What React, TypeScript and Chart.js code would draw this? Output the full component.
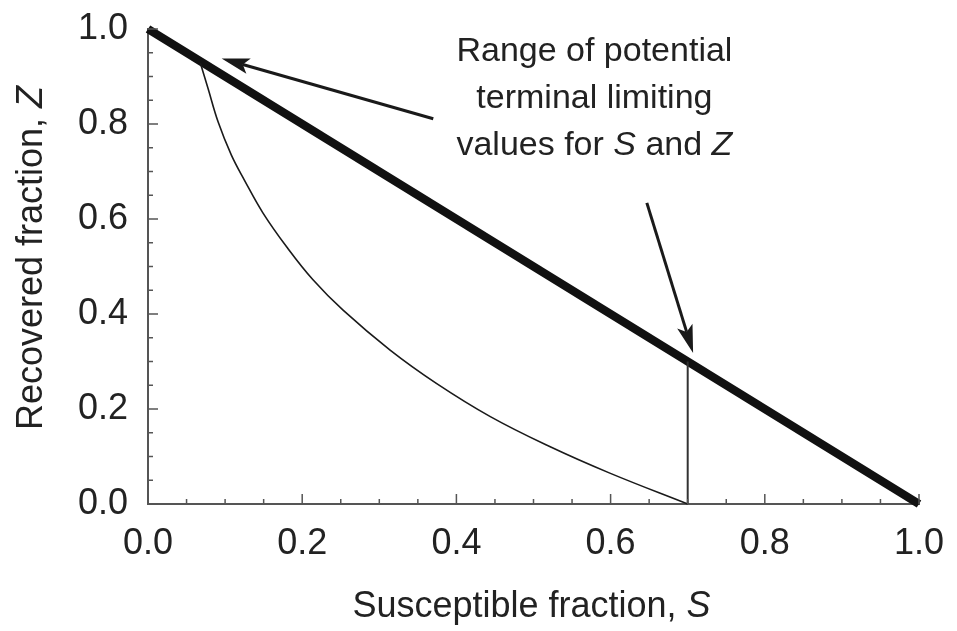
import React, { useEffect, useRef } from "react";
import { Chart, registerables } from "chart.js";

Chart.register(...registerables);

// ---- data ----
const boundaryS = [0.0, 1.0];
const boundaryZ = [1.0, 0.0];

const curveS = [0.068, 0.078, 0.091, 0.108, 0.125, 0.149, 0.18, 0.214, 0.253, 0.314, 0.374, 0.444, 0.521, 0.599, 0.7];
const curveZ = [0.928, 0.874, 0.804, 0.735, 0.682, 0.613, 0.541, 0.472, 0.408, 0.324, 0.254, 0.184, 0.121, 0.065, 0.0];

const verticalS = [0.7, 0.7];
const verticalZ = [0.0, 0.3];

const arrowTailS = [0.37, 0.647];
const arrowTailZ = [0.811, 0.634];
const arrowTipS = [0.0955, 0.707];
const arrowTipZ = [0.938, 0.318];

const annotationLines = [
  [{ t: "Range of potential", i: false }],
  [{ t: "terminal limiting", i: false }],
  [
    { t: "values for ", i: false },
    { t: "S", i: true },
    { t: " and ", i: false },
    { t: "Z", i: true },
  ],
];
const annotationS = 0.579;
const annotationZ = [0.933, 0.834, 0.735];

const xTitle = [
  { t: "Susceptible fraction, ", i: false },
  { t: "S", i: true },
];
const yTitle = [
  { t: "Recovered fraction, ", i: false },
  { t: "Z", i: true },
];

const tickStep = 0.2;
const minorStep = 0.05;

const FONT = "'Liberation Sans', Arial, Helvetica, sans-serif";
const INK = "#1a1a1a";
const AXIS = "#555555";

function toPts(xs: number[], ys: number[]) {
  return xs.map((x, i) => ({ x, y: ys[i] }));
}

function drawMixed(ctx: CanvasRenderingContext2D, parts: { t: string; i: boolean }[], x: number, y: number, size: number) {
  const fontOf = (it: boolean) => `${it ? "italic " : ""}${size}px ${FONT}`;
  let total = 0;
  for (const p of parts) {
    ctx.font = fontOf(p.i);
    total += ctx.measureText(p.t).width;
  }
  let cx = x - total / 2;
  ctx.textAlign = "left";
  for (const p of parts) {
    ctx.font = fontOf(p.i);
    ctx.fillText(p.t, cx, y);
    cx += ctx.measureText(p.t).width;
  }
}

const decor = {
  id: "decor",
  afterDraw(chart: any) {
    const ctx: CanvasRenderingContext2D = chart.ctx;
    const xs = chart.scales.x;
    const ys = chart.scales.y;
    const area = chart.chartArea;
    ctx.save();
    // inward ticks
    ctx.strokeStyle = AXIS;
    ctx.lineWidth = 1.5;
    const n = Math.round(1 / minorStep);
    for (let k = 0; k <= n; k++) {
      const v = k * minorStep;
      const major = k % Math.round(tickStep / minorStep) === 0;
      const len = major ? 10 : 5;
      const px = xs.getPixelForValue(v);
      ctx.beginPath();
      ctx.moveTo(px, area.bottom);
      ctx.lineTo(px, area.bottom - len);
      ctx.stroke();
      const py = ys.getPixelForValue(v);
      ctx.beginPath();
      ctx.moveTo(area.left, py);
      ctx.lineTo(area.left + len, py);
      ctx.stroke();
    }

    // arrows
    ctx.strokeStyle = INK;
    ctx.fillStyle = INK;
    for (let i = 0; i < arrowTailS.length; i++) {
      const x0 = xs.getPixelForValue(arrowTailS[i]);
      const y0 = ys.getPixelForValue(arrowTailZ[i]);
      const x1 = xs.getPixelForValue(arrowTipS[i]);
      const y1 = ys.getPixelForValue(arrowTipZ[i]);
      const dx = x1 - x0;
      const dy = y1 - y0;
      const L = Math.hypot(dx, dy);
      const ux = dx / L;
      const uy = dy / L;
      const head = 28;
      const half = 8;
      const notch = 6;
      ctx.lineWidth = 3;
      ctx.beginPath();
      ctx.moveTo(x0, y0);
      ctx.lineTo(x1 - ux * (head - notch), y1 - uy * (head - notch));
      ctx.stroke();
      const bx = x1 - ux * head;
      const by = y1 - uy * head;
      ctx.beginPath();
      ctx.moveTo(x1, y1);
      ctx.lineTo(bx - uy * half, by + ux * half);
      ctx.lineTo(x1 - ux * (head - notch), y1 - uy * (head - notch));
      ctx.lineTo(bx + uy * half, by - ux * half);
      ctx.closePath();
      ctx.fill();
    }

    // annotation text
    ctx.fillStyle = "#222";
    ctx.textBaseline = "alphabetic";
    const ax = xs.getPixelForValue(annotationS);
    annotationLines.forEach((ln, i) => {
      drawMixed(ctx, ln, ax, ys.getPixelForValue(annotationZ[i]), 34);
    });

    // axis titles
    drawMixed(ctx, xTitle, (area.left + area.right) / 2 - 2, 617, 36);
    ctx.save();
    ctx.translate(42, 258);
    ctx.rotate(-Math.PI / 2);
    drawMixed(ctx, yTitle, 0, 0, 36);
    ctx.restore();

    ctx.restore();
  },
};

export default function App() {
  const ref = useRef<HTMLCanvasElement>(null);
  useEffect(() => {
    document.body.style.margin = "0";
    const canvas = ref.current!;
    const tickFont = { family: FONT, size: 36 };
    const chart = new Chart(canvas, {
      type: "scatter",
      data: {
        datasets: [
          {
            data: toPts(curveS, curveZ),
            showLine: true,
            borderColor: INK,
            borderWidth: 1.6,
            pointRadius: 0,
            tension: 0.4,
            fill: false,
          },
          {
            data: toPts(verticalS, verticalZ),
            showLine: true,
            borderColor: "#333",
            borderWidth: 2,
            pointRadius: 0,
            fill: false,
          },
          {
            data: toPts(boundaryS, boundaryZ),
            showLine: true,
            borderColor: "#111",
            borderWidth: 8.5,
            borderCapStyle: "butt",
            pointRadius: 0,
            fill: false,
          },
        ],
      },
      options: {
        animation: false,
        responsive: false,
        devicePixelRatio: 1,
        clip: false as any,
        layout: { padding: { top: 29, right: 38, left: 0, bottom: 0 } },
        plugins: { legend: { display: false }, tooltip: { enabled: false } },
        scales: {
          x: {
            type: "linear",
            min: 0,
            max: 1,
            grid: { display: false, drawTicks: false },
            border: { display: true, color: AXIS, width: 2 },
            ticks: {
              stepSize: tickStep,
              padding: 18,
              color: "#222",
              font: tickFont,
              maxRotation: 0,
              callback: (v: any) => Number(v).toFixed(1),
            },
            afterFit: (s: any) => {
              s.height = 127;
              s.paddingLeft = 0;
              s.paddingRight = 0;
              s.paddingTop = 0;
              s.paddingBottom = 0;
            },
          },
          y: {
            type: "linear",
            min: 0,
            max: 1,
            grid: { display: false, drawTicks: false },
            border: { display: true, color: AXIS, width: 2 },
            ticks: {
              stepSize: tickStep,
              padding: 20,
              color: "#222",
              font: tickFont,
              callback: (v: any) => Number(v).toFixed(1),
            },
            afterFit: (s: any) => {
              s.width = 148;
              s.paddingLeft = 0;
              s.paddingRight = 0;
              s.paddingTop = 0;
              s.paddingBottom = 0;
            },
          },
        },
      },
      plugins: [decor],
    });
    return () => chart.destroy();
  }, []);
  return <canvas ref={ref} width={957} height={631} style={{ display: "block" }} />;
}
